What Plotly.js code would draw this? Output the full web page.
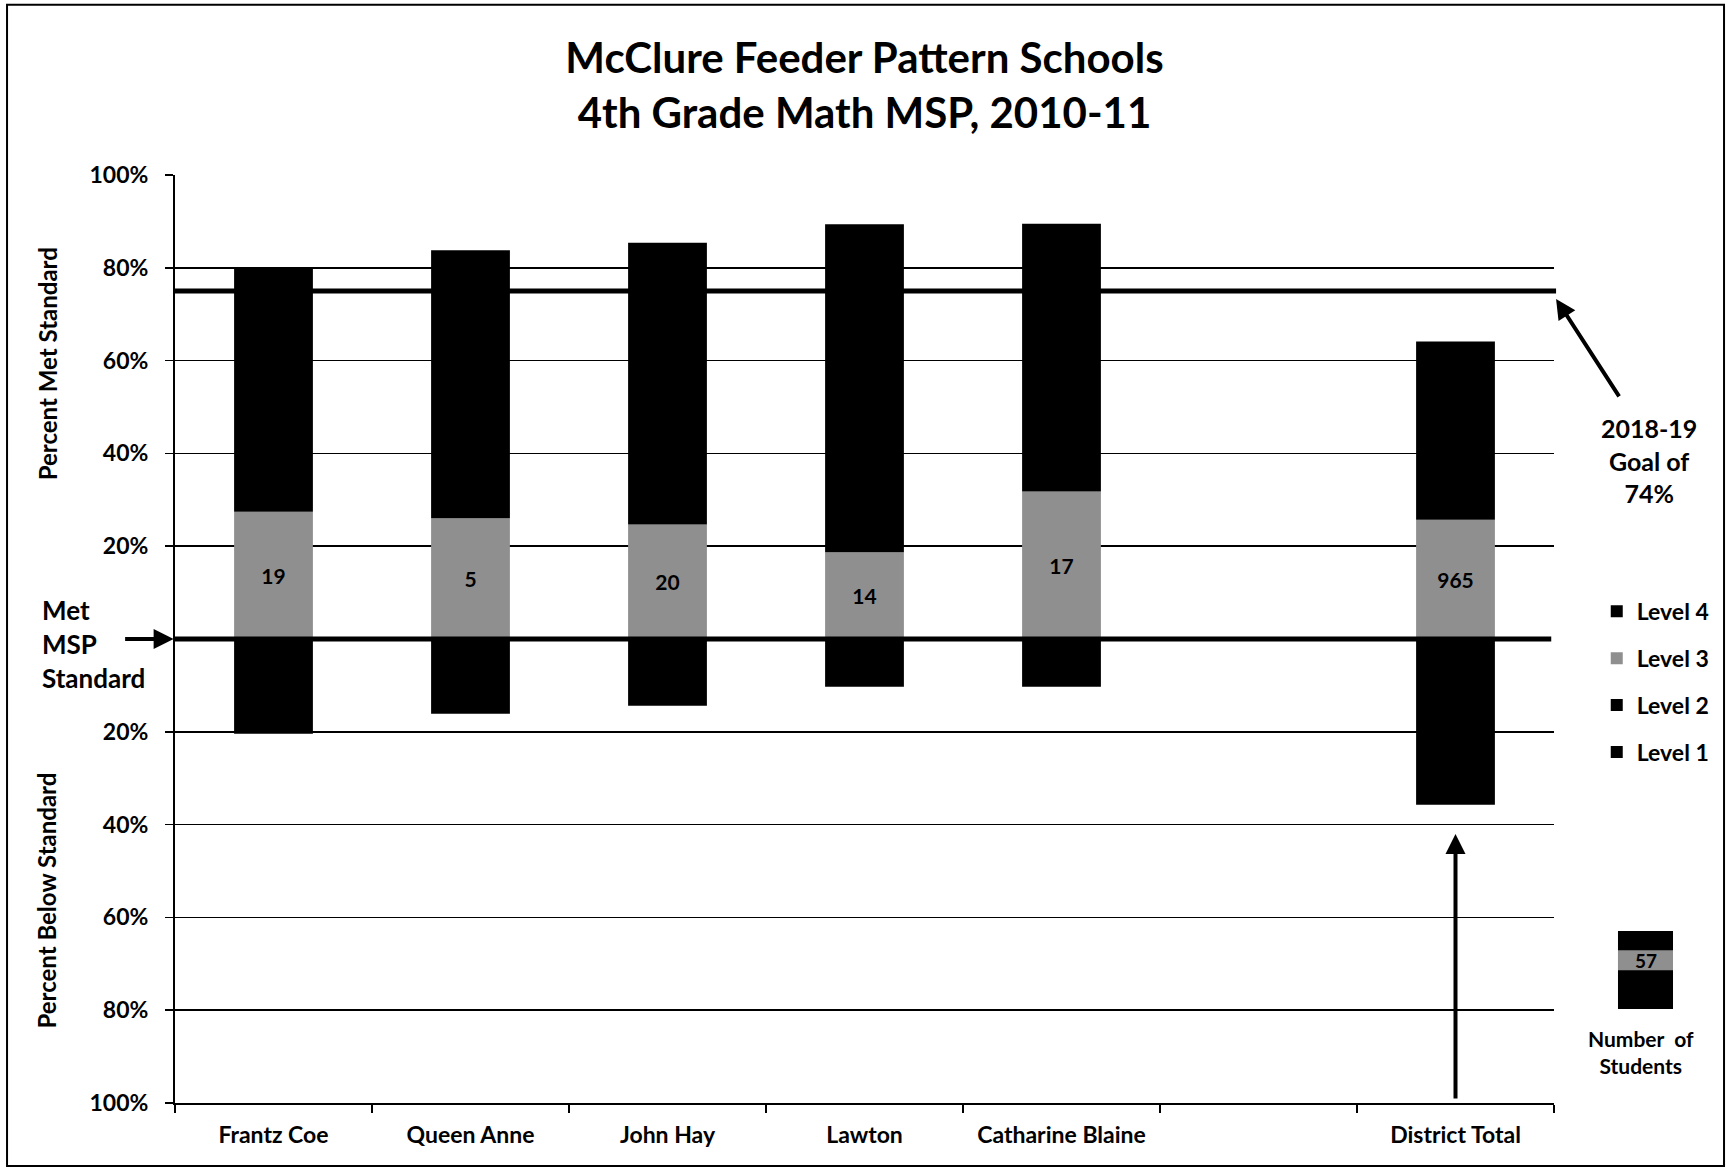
<!DOCTYPE html>
<html>
<head>
<meta charset="utf-8">
<script src="https://cdn.plot.ly/plotly-3.0.1.min.js"></script>
<style>
  html, body { margin: 0; padding: 0; background: #ffffff; }
  #chart { width: 1727px; height: 1169px; }
</style>
</head>
<body>
<div id="chart"></div>
<script>
// ---- data ----
const schools = ['Frantz Coe', 'Queen Anne', 'John Hay', 'Lawton', 'Catharine Blaine', ' ', 'District Total'];
// percent of students at each level (met standard, stacked upward)
const level3 = [27.4, 26.0, 24.7, 18.7, 31.8, null, 25.7];
const level4 = [52.6, 57.8, 60.7, 70.7, 57.7, null, 38.4];
// percent below standard (Level 2 + Level 1 share the same black fill in the source, so they cannot be separated)
const level2 = [-20.4, -16.1, -14.4, -10.3, -10.3, null, -35.7];
const level1 = [null, null, null, null, null, null, null];
// number of students tested
const nStudents = ['19', '5', '20', '14', '17', '', '965'];
// 2018-19 goal line and "Met MSP Standard" line
const goalValue = 75;
const metStandard = 0;
// y tick labels
const yTickVals = [100, 80, 60, 40, 20, -20, -40, -60, -80, -100];
const yTickText = ['100%', '80%', '60%', '40%', '20%', '20%', '40%', '60%', '80%', '100%'];

const FONT = 'Lato, "Open Sans", "DejaVu Sans", sans-serif';
const BLACK = '#000000';
const GREY = '#8f8f8f';

const baseBar = {
  type: 'bar', x: schools, width: 0.4, hoverinfo: 'skip',
  marker: { color: BLACK, line: { width: 0 } }
};

const traces = [
  Object.assign({}, baseBar, {
    name: 'Level 3', y: level3, legendrank: 2, legendgroup: 'g3',
    marker: { color: GREY, line: { width: 0 } },
    text: nStudents, textposition: 'inside', insidetextanchor: 'middle',
    constraintext: 'none', textangle: 0,
    textfont: { family: FONT, size: 21, color: BLACK, weight: 700 }
  }),
  Object.assign({}, baseBar, { name: 'Level 4', y: level4, legendrank: 1, legendgroup: 'g4' }),
  Object.assign({}, baseBar, { name: 'Level 2', y: level2, legendrank: 3, legendgroup: 'g2' }),
  Object.assign({}, baseBar, { name: 'Level 1', y: level1, legendrank: 4, legendgroup: 'g1' })
];

const layout = {
  width: 1727, height: 1169,
  margin: { l: 175, r: 173, t: 175, b: 66 },
  paper_bgcolor: '#ffffff', plot_bgcolor: '#ffffff',
  barmode: 'relative',
  font: { family: FONT, color: BLACK, size: 22, weight: 700 },
  title: {
    text: 'McClure Feeder Pattern Schools<br>4th Grade Math MSP, 2010-11',
    font: { family: FONT, size: 42, color: BLACK, weight: 700 },
    x: 0.5, xref: 'paper', xanchor: 'center',
    y: 0.9376, yref: 'container', yanchor: 'middle'
  },
  xaxis: {
    type: 'category', categoryorder: 'array', categoryarray: schools,
    range: [-0.5, 6.5],
    showgrid: false, zeroline: false,
    showline: true, linecolor: BLACK, linewidth: 2,
    ticks: 'outside', tickson: 'boundaries', ticklen: 8, tickcolor: BLACK, tickwidth: 1.5,
    tickfont: { family: FONT, size: 23, color: BLACK, weight: 700 },
    ticklabelstandoff: 10
  },
  yaxis: {
    range: [-100, 100], tickvals: yTickVals, ticktext: yTickText,
    showgrid: true, gridcolor: BLACK, gridwidth: 1.5,
    zeroline: false,
    showline: true, linecolor: BLACK, linewidth: 2,
    ticks: 'outside', ticklen: 8, tickcolor: BLACK, tickwidth: 1.5,
    tickfont: { family: FONT, size: 23, color: BLACK, weight: 700 },
    ticklabelstandoff: 12
  },
  showlegend: true,
  legend: {
    x: 1.031, xanchor: 'left', y: 0.553, yanchor: 'top',
    font: { family: FONT, size: 23, color: BLACK, weight: 700 },
    tracegroupgap: 14, bgcolor: 'rgba(0,0,0,0)', itemclick: false
  },
  shapes: [
    // goal line
    { type: 'line', xref: 'paper', x0: 0, x1: 1.0015, yref: 'y', y0: goalValue, y1: goalValue,
      line: { color: BLACK, width: 5 }, layer: 'below' },
    // met standard line
    { type: 'line', xref: 'paper', x0: 0, x1: 0.998, yref: 'y', y0: metStandard, y1: metStandard,
      line: { color: BLACK, width: 5 }, layer: 'above' },
    // outer frame
    { type: 'rect', xref: 'paper', yref: 'paper', x0: -0.1218, x1: 1.1233, y0: -0.0678, y1: 1.1835,
      line: { color: BLACK, width: 2 }, fillcolor: 'rgba(0,0,0,0)' },
    // "Number of Students" sample bar
    { type: 'rect', xref: 'paper', yref: 'paper', x0: 1.0464, x1: 1.0863, y0: 0.1013, y1: 0.1853,
      line: { width: 0 }, fillcolor: BLACK },
    { type: 'rect', xref: 'paper', yref: 'paper', x0: 1.0464, x1: 1.0863, y0: 0.143, y1: 0.1645,
      line: { width: 0 }, fillcolor: GREY }
  ],
  annotations: [
    // axis titles
    { text: 'Percent Met Standard', xref: 'paper', yref: 'paper', x: -0.0929, y: 0.797,
      xanchor: 'center', yanchor: 'middle',
      textangle: -90, showarrow: false, font: { family: FONT, size: 24, color: BLACK, weight: 700 } },
    { text: 'Percent Below Standard', xref: 'paper', yref: 'paper', x: -0.0929, y: 0.218,
      xanchor: 'center', yanchor: 'middle',
      textangle: -90, showarrow: false, font: { family: FONT, size: 24, color: BLACK, weight: 700 } },
    // Met MSP Standard label + arrow
    { text: 'Met<br>MSP<br>Standard', xref: 'paper', yref: 'paper', x: -0.0979, xanchor: 'left', y: 0.4943,
      yanchor: 'middle', align: 'left', showarrow: false,
      font: { family: FONT, size: 26, color: BLACK, weight: 700 } },
    { text: '', xref: 'paper', yref: 'y', x: -0.001, y: metStandard, ax: -50, ay: 0,
      showarrow: true, arrowhead: 2, arrowsize: 1, arrowwidth: 4, arrowcolor: BLACK },
    // goal label + arrow
    { text: '2018-19<br>Goal of<br>74%', xref: 'paper', yref: 'paper', x: 1.069, y: 0.6924,
      xanchor: 'center', yanchor: 'middle', align: 'center', showarrow: false,
      font: { family: FONT, size: 25, color: BLACK, weight: 700 } },
    { text: '', xref: 'paper', yref: 'y', x: 1.0015, y: 73.3, ax: 64, ay: 99,
      showarrow: true, arrowhead: 2, arrowsize: 1, arrowwidth: 4, arrowcolor: BLACK },
    // district arrow
    { text: '', xref: 'x', yref: 'y', x: 'District Total', y: -42, ax: 0, ay: 266,
      showarrow: true, arrowhead: 2, arrowsize: 1, arrowwidth: 4, arrowcolor: BLACK },
    // number of students sample label
    { text: '57', xref: 'paper', yref: 'paper', x: 1.0664, y: 0.15375, xanchor: 'center', yanchor: 'middle',
      showarrow: false, font: { family: FONT, size: 19, color: BLACK, weight: 700 } },
    { text: 'Number  of<br>Students', xref: 'paper', yref: 'paper', x: 1.0631, y: 0.055,
      xanchor: 'center', yanchor: 'middle', align: 'center', showarrow: false,
      font: { family: FONT, size: 21, color: BLACK, weight: 700 } }
  ]
};

Plotly.newPlot('chart', traces, layout, { staticPlot: true, displayModeBar: false });
</script>
</body>
</html>
